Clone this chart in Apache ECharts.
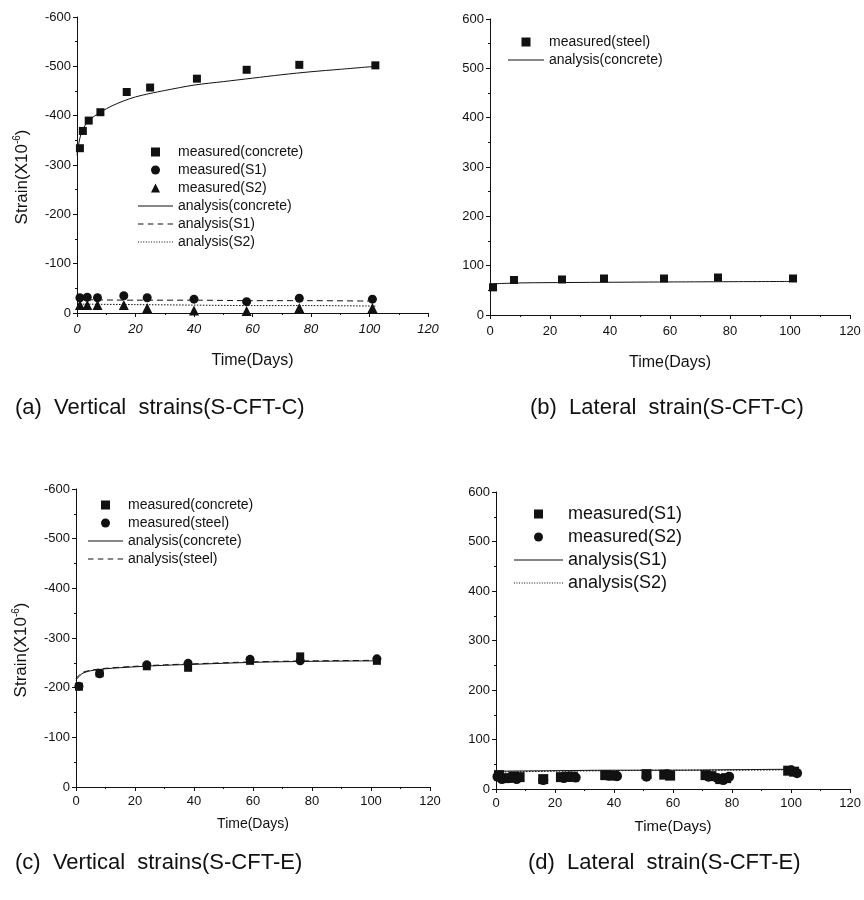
<!DOCTYPE html>
<html>
<head>
<meta charset="utf-8">
<script src="https://cdn.jsdelivr.net/npm/echarts@6/dist/echarts.min.js"></script>
<style>
html,body{margin:0;padding:0;background:#fff;}
#c{width:864px;height:900px;}
</style>
</head>
<body>
<div id="c"></div>
<script>
// ---------- Panel (a) Vertical strains (S-CFT-C) ----------
const aConcreteDays = [1, 2, 4, 8, 17, 25, 41, 58, 76, 102];
const aConcreteVals = [-334, -369, -390, -407, -448, -457, -475, -493, -503, -502];
const aSteelDays = [1, 3.5, 7, 16, 24, 40, 58, 76, 101];
const aS1Vals = [-31, -32, -31, -35, -31, -28, -23, -30, -28];
const aS2Vals = [-16, -16, -16, -16, -10, -5, -4, -10, -10];
const aAnaConcDays = [0, 1, 2, 4, 8, 12, 16, 20, 25, 30, 40, 50, 60, 70, 80, 90, 102];
const aAnaConcVals = [-320, -355, -372, -390, -407, -420, -430, -438, -445, -451, -462, -469, -476, -483, -489, -494, -500];
const aAnaSDays = [0, 20, 40, 60, 80, 102];
const aAnaS1Vals = [-27, -26, -26, -25, -25, -24];
const aAnaS2Vals = [-18, -17, -16, -15, -15, -14];

// ---------- Panel (b) Lateral strain (S-CFT-C) ----------
const bDays = [1, 8, 24, 38, 58, 76, 101];
const bSteelVals = [56, 71, 72, 74, 74, 76, 74];
const bAnaDays = [0, 10, 30, 60, 100];
const bAnaVals = [63, 65, 66, 67, 68];

// ---------- Panel (c) Vertical strains (S-CFT-E) ----------
const cDays = [1, 8, 24, 38, 59, 76, 102];
const cConcreteVals = [-202, -229, -243, -240, -254, -263, -254];
const cSteelVals = [-203, -228, -246, -249, -257, -254, -258];
const cAnaDays = [0, 2, 5, 10, 20, 30, 40, 60, 80, 102];
const cAnaConcVals = [-215, -228, -234, -238, -242, -245, -247, -251, -253, -254];
const cAnaSteelVals = [-218, -230, -235, -239, -243, -246, -248, -252, -254, -255];

// ---------- Panel (d) Lateral strain (S-CFT-E) ----------
const dS1Days = [1, 3, 6, 8, 16, 22, 24, 26, 37, 40, 51, 57, 59, 71, 73, 76, 78, 99, 101];
const dS1Vals = [28, 22, 25, 24, 20, 24, 25, 25, 28, 27, 30, 29, 27, 28, 26, 20, 22, 37, 35];
const dS2Days = [0.5, 2, 5, 7, 16, 23, 25, 27, 38, 41, 51, 58, 72, 75, 77, 79, 100, 102];
const dS2Vals = [25, 20, 22, 20, 18, 22, 24, 23, 27, 26, 25, 30, 25, 22, 18, 25, 38, 32];
const dAnaDays = [0, 20, 40, 60, 80, 102];
const dAnaS1Vals = [36, 37, 38, 38, 39, 40];
const dAnaS2Vals = [34, 36, 37, 38, 38, 39];

// ---------- Tick / text labels ----------
const xTicks = {min: 0, max: 120, interval: 20};
const yTicks = {interval: 100};
const captions = ['(a)  Vertical  strains(S-CFT-C)', '(b)  Lateral  strain(S-CFT-C)', '(c)  Vertical  strains(S-CFT-E)', '(d)  Lateral  strain(S-CFT-E)'];
const xName = 'Time(Days)';

const zip = (xs, ys) => xs.map((x, i) => [x, ys[i]]);
const FONT = 'Liberation Sans, Arial, sans-serif';
const INK = '#111';

const ICON = {
  rect: 'path://M0,0H10V10H0Z',
  circle: 'path://M5,0A5,5 0 1 1 4.999,0Z',
  triangle: 'path://M5,0L10,10H0Z'
};
// legend line icons built as thin filled paths (solid / dashed / dotted)
function lineIcon(width, on, off) {
  if (!off) return 'path://M0,0H' + width + 'V1H0Z';
  let p = 'path://';
  for (let x = 0; x < width; x += on + off) {
    const e = Math.min(width, x + on);
    p += 'M' + x + ',0H' + e + 'V1H' + x + 'Z';
  }
  return p;
}

const grids = [
  {left: 77, top: 17, width: 351, height: 296},
  {left: 490, top: 19, width: 360, height: 296},
  {left: 76, top: 489, width: 354, height: 298},
  {left: 496, top: 492, width: 360, height: 297}
];

function xAxis(i, nameGap, fs, italic, margin) {
  return {
    type: 'value', gridIndex: i, min: xTicks.min, max: xTicks.max, interval: xTicks.interval,
    name: xName, nameLocation: 'middle', nameGap: nameGap,
    nameTextStyle: {fontFamily: FONT, fontSize: fs, color: INK},
    axisLine: {lineStyle: {color: INK, width: 1}},
    axisTick: {show: true, length: 4, lineStyle: {color: INK}},
    minorTick: {show: true, splitNumber: 2, length: 2, lineStyle: {color: INK}},
    splitLine: {show: false},
    axisLabel: {fontFamily: FONT, fontSize: 13, color: INK, fontStyle: italic ? 'italic' : 'normal', margin: margin}
  };
}
function yAxis(i, inverse, named) {
  const ax = {
    type: 'value', gridIndex: i, interval: yTicks.interval,
    min: inverse ? -600 : 0, max: inverse ? 0 : 600, inverse: inverse,
    axisLine: {show: true, lineStyle: {color: INK, width: 1}},
    axisTick: {show: true, length: 4, lineStyle: {color: INK}},
    minorTick: {show: true, splitNumber: 2, length: 2, lineStyle: {color: INK}},
    splitLine: {show: false},
    axisLabel: {fontFamily: FONT, fontSize: 13, color: INK, margin: 6}
  };
  if (named) {
    ax.name = '{n|Strain(X10}{s|-6}{n|)}';
    ax.nameLocation = 'middle';
    ax.nameGap = 46;
    ax.nameRotate = 90;
    ax.nameTextStyle = {
      color: INK,
      padding: [0, 24, 0, 0],
      rich: {
        n: {fontFamily: FONT, fontSize: 17, color: INK, verticalAlign: 'bottom', lineHeight: 20},
        s: {fontFamily: FONT, fontSize: 10, color: INK, verticalAlign: 'bottom', lineHeight: 20, padding: [0, 0, 9, 0]}
      }
    };
  }
  return ax;
}

function scatter(name, i, data, symbol, size) {
  return {name: name, type: 'scatter', xAxisIndex: i, yAxisIndex: i, data: data,
    symbol: symbol, symbolSize: size, itemStyle: {color: INK, opacity: 1}, z: 3};
}
function line(name, i, data, type) {
  return {name: name, type: 'line', xAxisIndex: i, yAxisIndex: i, data: data, symbol: 'none', showSymbol: false,
    smooth: 0.3, lineStyle: {color: INK, width: 1, type: type}, itemStyle: {color: INK}, z: 2};
}
function mk(name, kind) {
  return {name: name, icon: kind};
}
function legend(left, top, items, fs, gap, iw) {
  return {
    left: left, top: top, orient: 'vertical', itemWidth: iw, itemHeight: 9, itemGap: gap, padding: 0,
    selectedMode: false, formatter: n => n.split('|')[1],
    textStyle: {fontFamily: FONT, fontSize: fs, color: INK},
    data: items
  };
}
function caption(text, left, top) {
  return {text: text, left: left, top: top, padding: 0,
    textStyle: {fontFamily: FONT, fontSize: 22, fontWeight: 'normal', color: INK}};
}

const option = {
  backgroundColor: '#fff',
  animation: false,
  grid: grids,
  xAxis: [xAxis(0, 40, 16, true, 10), xAxis(1, 40, 16, false, 10), xAxis(2, 30, 14, false, 8), xAxis(3, 30, 15, false, 8)],
  yAxis: [yAxis(0, true, true), yAxis(1, false, false), yAxis(2, true, true), yAxis(3, false, false)],
  title: [
    caption(captions[0], 15, 397),
    caption(captions[1], 530, 397),
    caption(captions[2], 15, 852),
    caption(captions[3], 528, 852)
  ],
  legend: [
    legend(138, 145, [mk('a|measured(concrete)', ICON.rect), mk('a|measured(S1)', ICON.circle), mk('a|measured(S2)', ICON.triangle),
      mk('a|analysis(concrete)', lineIcon(35)), mk('a|analysis(S1)', lineIcon(35, 5, 4)), mk('a|analysis(S2)', lineIcon(35, 1, 1.5))], 14, 4, 35),
    legend(508, 35, [mk('b|measured(steel)', ICON.rect), mk('b|analysis(concrete)', lineIcon(36))], 14, 4, 36),
    legend(88, 498, [mk('c|measured(concrete)', ICON.rect), mk('c|measured(steel)', ICON.circle),
      mk('c|analysis(concrete)', lineIcon(35)), mk('c|analysis(steel)', lineIcon(35, 5, 4))], 14, 4, 35),
    legend(514, 505, [mk('d|measured(S1)', ICON.rect), mk('d|measured(S2)', ICON.circle),
      mk('d|analysis(S1)', lineIcon(49)), mk('d|analysis(S2)', lineIcon(49, 1, 1.5))], 18, 5, 49)
  ],
  series: [
    scatter('a|measured(concrete)', 0, zip(aConcreteDays, aConcreteVals), 'rect', 8),
    scatter('a|measured(S1)', 0, zip(aSteelDays, aS1Vals), 'circle', 9),
    scatter('a|measured(S2)', 0, zip(aSteelDays, aS2Vals), 'triangle', 10),
    line('a|analysis(concrete)', 0, zip(aAnaConcDays, aAnaConcVals), 'solid'),
    line('a|analysis(S1)', 0, zip(aAnaSDays, aAnaS1Vals), [6, 4]),
    line('a|analysis(S2)', 0, zip(aAnaSDays, aAnaS2Vals), [1.5, 1.5]),

    scatter('b|measured(steel)', 1, zip(bDays, bSteelVals), 'rect', 8),
    line('b|analysis(concrete)', 1, zip(bAnaDays, bAnaVals), 'solid'),

    scatter('c|measured(concrete)', 2, zip(cDays, cConcreteVals), 'rect', 8),
    scatter('c|measured(steel)', 2, zip(cDays, cSteelVals), 'circle', 9),
    line('c|analysis(concrete)', 2, zip(cAnaDays, cAnaConcVals), 'solid'),
    line('c|analysis(steel)', 2, zip(cAnaDays, cAnaSteelVals), [6, 4]),

    scatter('d|measured(S1)', 3, zip(dS1Days, dS1Vals), 'rect', 10),
    scatter('d|measured(S2)', 3, zip(dS2Days, dS2Vals), 'circle', 10),
    line('d|analysis(S1)', 3, zip(dAnaDays, dAnaS1Vals), 'solid'),
    line('d|analysis(S2)', 3, zip(dAnaDays, dAnaS2Vals), [1.5, 1.5])
  ]
};

const chart = echarts.init(document.getElementById('c'), null, {renderer: 'canvas'});
chart.setOption(option);
</script>
</body>
</html>
